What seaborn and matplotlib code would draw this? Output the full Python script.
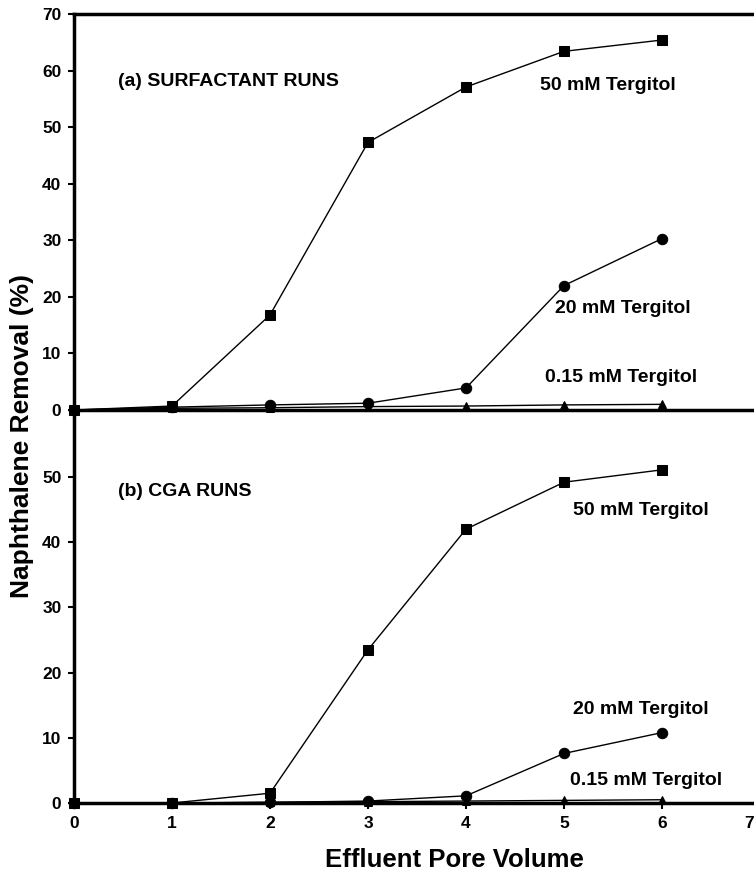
import numpy as np
import pandas as pd
import matplotlib
matplotlib.use("Agg")
import matplotlib.pyplot as plt
import matplotlib.transforms as mtransforms
import seaborn as sns

sns.set_theme(style="ticks")
plt.rcParams['font.family'] = ['Liberation Sans', 'DejaVu Sans']
plt.rcParams['font.weight'] = 'bold'
plt.rcParams['text.color'] = 'black'

pore_volume = [0, 1, 2, 3, 4, 5, 6]
series_names = ["50 mM Tergitol", "20 mM Tergitol", "0.15 mM Tergitol"]

# (a) surfactant runs
surf_50 = [0.0, 0.7, 16.8, 47.3, 57.1, 63.4, 65.4]
surf_20 = [0.0, 0.5, 0.9, 1.2, 3.9, 22.0, 30.3]
surf_015 = [0.0, 0.3, 0.4, 0.6, 0.7, 0.9, 1.0]

# (b) CGA runs
cga_50 = [0.0, 0.0, 1.5, 23.5, 42.0, 49.2, 51.1]
cga_20 = [0.0, 0.0, 0.1, 0.3, 1.1, 7.6, 10.8]
cga_015 = [0.0, 0.0, 0.1, 0.2, 0.3, 0.4, 0.5]

panel_titles = ["(a) SURFACTANT RUNS", "(b) CGA RUNS"]
x_ticks = [0, 1, 2, 3, 4, 5, 6, 7]
top_yticks = [0, 10, 20, 30, 40, 50, 60, 70]
bot_yticks = [0, 10, 20, 30, 40, 50]

def make_df(a, b, c):
    rows = []
    for name, vals in zip(series_names, [a, b, c]):
        for x, y in zip(pore_volume, vals):
            rows.append({"pv": x, "removal": y, "series": name})
    return pd.DataFrame(rows)

df_top = make_df(surf_50, surf_20, surf_015)
df_bot = make_df(cga_50, cga_20, cga_015)

fig = plt.figure(figsize=(7.54, 8.76), dpi=100)
left = 74 / 754
right = 760 / 754
ax_bot = fig.add_axes([left, 1 - 803 / 876, right - left, (803 - 410) / 876])
ax_top = fig.add_axes([left, 1 - 410 / 876, right - left, (410 - 14) / 876])
ax_top.set_zorder(3)
ax_top.patch.set_visible(False)

markers = {"50 mM Tergitol": "s", "20 mM Tergitol": "o", "0.15 mM Tergitol": "^"}
msizes = {"50 mM Tergitol": 6.5, "20 mM Tergitol": 7.5, "0.15 mM Tergitol": 5.5}

for ax, df in [(ax_top, df_top), (ax_bot, df_bot)]:
    for name in series_names:
        sub = df[df["series"] == name]
        sns.lineplot(data=sub, x="pv", y="removal", ax=ax, color="black",
                     marker=markers[name], markersize=msizes[name],
                     markeredgecolor="black", linewidth=1.0, legend=False,
                     clip_on=False, zorder=3)
    ax.set_xlim(0, 7)
    ax.set_xlabel("")
    ax.set_ylabel("")
    for side in ["left", "bottom", "top"]:
        ax.spines[side].set_linewidth(2.5)
        ax.spines[side].set_color("black")
    ax.spines["right"].set_visible(False)
    ax.tick_params(axis="both", direction="out", length=4, width=1.5,
                   labelsize=12.5, colors="black", labelcolor="black", pad=5)

ax_top.set_ylim(0, 70)
ax_top.set_yticks(top_yticks)
ax_top.set_xticks(x_ticks)
ax_top.tick_params(axis="x", labelbottom=False, length=0)
ax_top.set_yticklabels([str(t) for t in top_yticks], fontweight="bold")

ax_bot.set_ylim(0, (803 - 410) / 6.52)
ax_bot.set_yticks(bot_yticks)
ax_bot.set_xticks(x_ticks)
ax_bot.spines["top"].set_visible(False)
ax_bot.set_yticklabels([str(t) for t in bot_yticks], fontweight="bold")
ax_bot.set_xticklabels([str(t) for t in x_ticks], fontweight="bold")

# shift the last tick label ("7") left so it stays inside the figure
last = ax_bot.get_xticklabels()[-1]
last.set_transform(last.get_transform() +
                   mtransforms.ScaledTranslation(-11 / 100, 0, fig.dpi_scale_trans))

tk = dict(fontsize=14, fontweight="bold", color="black")
ax_top.text(0.45, 58, panel_titles[0], ha="left", va="center", **tk)
ax_top.text(4.76, 57.3, series_names[0], ha="left", va="center", **tk)
ax_top.text(4.91, 18.0, series_names[1], ha="left", va="center", **tk)
ax_top.text(4.81, 5.7, series_names[2], ha="left", va="center", **tk)

ax_bot.text(0.45, 47.7, panel_titles[1], ha="left", va="center", **tk)
ax_bot.text(5.09, 44.9, series_names[0], ha="left", va="center", **tk)
ax_bot.text(5.09, 14.3, series_names[1], ha="left", va="center", **tk)
ax_bot.text(5.06, 3.5, series_names[2], ha="left", va="center", **tk)

fig.text(22 / 754, 1 - 436 / 876, "Naphthalene Removal (%)", rotation=90,
         ha="center", va="center", fontsize=19, fontweight="bold", color="black")
fig.text(454 / 754, 1 - 860 / 876, "Effluent Pore Volume", ha="center",
         va="center", fontsize=18.5, fontweight="bold", color="black")

fig.savefig("out.png", dpi=100)
